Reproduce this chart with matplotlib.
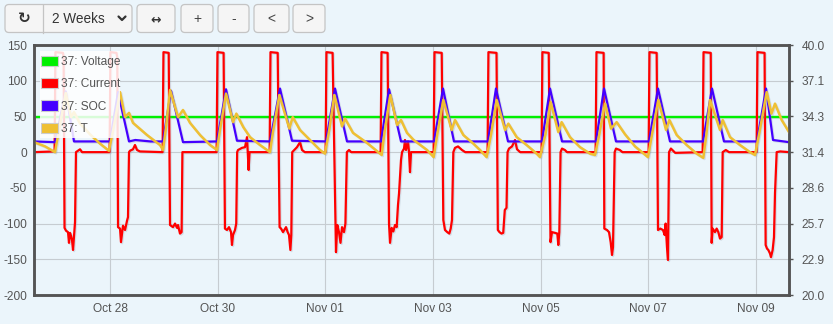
import numpy as np
import matplotlib
matplotlib.use('Agg')
import matplotlib.pyplot as plt
import matplotlib.dates as mdates
import matplotlib.patheffects as pe
from matplotlib.patches import Patch, FancyBboxPatch, Rectangle
from datetime import datetime

plt.rcParams['font.family'] = ['Liberation Sans', 'DejaVu Sans']

# time stamps are days relative to Oct 28 00:00
base = datetime(2023, 10, 28)
x_range = (-1.412, 12.614)

t_volt = [-1.412, -0.5, 0.5, 1.5, 2.5, 3.5, 4.5, 5.5, 6.5, 7.5, 8.5, 9.5, 10.5, 11.5, 12.614]
volt = [49.0, 49.0, 49.0, 49.0, 49.0, 49.0, 49.0, 49.0, 49.0, 49.0, 49.0, 49.0, 49.0, 49.0, 49.0]

t_current = [
    -1.412, -1.030, -1.014, -0.875, -0.862, -0.845, -0.817, -0.780, -0.762, -0.743, -0.725, -0.706, -0.687, -0.669, -0.650, -0.632, -0.557, -0.520,
    -0.008, 0.008, 0.120, 0.135, 0.149, 0.186, 0.204, 0.241, 0.279, 0.316, 0.334, 0.353, 0.372, 0.427, 0.464, 0.502, 0.557,
    0.977, 0.993, 1.090, 1.115, 1.170, 1.208, 1.245, 1.263, 1.300, 1.330, 1.345,
    1.980, 1.996, 2.110, 2.135, 2.173, 2.210, 2.248, 2.266, 2.285, 2.322, 2.345, 2.362, 2.378, 2.452, 2.508, 2.545, 2.558, 2.575, 2.592,
    2.965, 2.981, 3.115, 3.150, 3.177, 3.214, 3.270, 3.300, 3.325, 3.351, 3.368, 3.385, 3.474, 3.530, 3.567, 3.620,
    4.005, 4.021, 4.135, 4.198, 4.222, 4.254, 4.282, 4.310, 4.347, 4.373, 4.384, 4.400, 4.440, 4.480,
    5.027, 5.043, 5.157, 5.183, 5.202, 5.233, 5.263, 5.294, 5.325, 5.350, 5.369, 5.387, 5.406, 5.425, 5.462, 5.480, 5.499, 5.536, 5.555, 5.573, 5.592,
    6.012, 6.028, 6.162, 6.192, 6.223, 6.266, 6.303, 6.329, 6.353, 6.378, 6.409, 6.465, 6.539, 6.600,
    7.014, 7.030, 7.180, 7.205, 7.236, 7.273, 7.305, 7.334, 7.366, 7.385, 7.412, 7.468, 7.524, 7.561, 7.620,
    8.017, 8.033, 8.150, 8.183, 8.211, 8.267, 8.310, 8.328, 8.347, 8.370, 8.397, 8.450, 8.490,
    9.021, 9.037, 9.170, 9.183, 9.233, 9.270, 9.301, 9.326, 9.344, 9.375, 9.400, 9.470, 9.520,
    10.006, 10.022, 10.155, 10.180, 10.223, 10.273, 10.304, 10.322, 10.347, 10.366, 10.385, 10.420, 10.460, 10.500,
    11.010, 11.026, 11.160, 11.177, 11.195, 11.239, 11.270, 11.301, 11.332, 11.363, 11.382, 11.440, 11.500,
    12.012, 12.028, 12.160, 12.180, 12.205, 12.230, 12.261, 12.279, 12.310, 12.335, 12.354, 12.385, 12.450, 12.614,
]
current = [
    0, 1, 140, 139, 134, -106, -110, -112, -127, -113, -117, -123, -137, -118, -98, 0, 4, 0,
    0, 140, 139, 132, -105, -107, -126, -103, -109, -96, -91, 0, 2, 4, 10, 3, 1,
    0, 140, 139, -102, -105, -100, -106, -102, -114, -112, 0,
    0, 140, 139, -107, -109, -105, -112, -130, -116, -109, -100, 0, 3, 6, 7, 21, 0, -25, 0,
    0, 140, 139, -105, -107, -112, -105, -112, -116, -137, -116, 0, 7, 14, 3, 0,
    0, 140, 139, -140, -102, -112, -127, -105, -112, -100, -57, 0, 3, 0,
    0, 140, 139, -100, -127, -106, -111, -102, -105, -74, -58, -35, -11, 0, 5, 17, 3, 15, 0, -28, 0,
    0, 140, 139, -95, -109, -112, -114, -107, -95, 0, 6, 8, 3, 0,
    0, 140, 139, -109, -112, -114, -113, -81, -78, 0, 5, 8, 17, 4, 0,
    0, 140, 139, -126, -112, -113, -114, -130, -112, 0, 5, 3, 0,
    0, 140, 139, -107, -109, -112, -126, -144, -133, 0, 5, 3, 0,
    0, 140, 139, -109, -107, -109, -116, -100, -133, -151, 0, 5, 2, -1,
    0, 140, 139, -127, -107, -112, -107, -112, -121, -119, 0, 3, 0,
    0, 140, 139, -130, -135, -137, -142, -147, -137, -119, -57, 0, 1, 0,
]

t_soc = [
    -1.412, -1.022, -0.823, -0.669, -0.300,
    0.000, 0.149, 0.353, 0.470, 0.750,
    0.985, 1.133, 1.356,
    1.988, 2.155, 2.359,
    2.972, 3.158, 3.381,
    4.013, 4.180, 4.403,
    5.034, 5.183, 5.406,
    6.019, 6.186, 6.390,
    7.022, 7.170, 7.394,
    8.025, 8.174, 8.397,
    9.028, 9.177, 9.400,
    10.013, 10.180, 10.403,
    11.016, 11.183, 11.406,
    12.019, 12.187, 12.317, 12.614,
]
soc = [
    15, 14, 85, 15, 15,
    15, 84, 15, 17, 15,
    15, 86, 14,
    15, 88, 16,
    15, 89, 16,
    15, 89, 15,
    15, 88, 15,
    15, 89, 15,
    15, 89, 15,
    15, 89, 15,
    15, 89, 15,
    15, 89, 15,
    15, 89, 15,
    15, 89, 17, 14,
]

t_temp = [
    -1.412, -1.207, -1.022,
    -0.950, -0.823, -0.725, -0.669, -0.557, -0.372, -0.186, -0.020,
    0.056, 0.186, 0.279, 0.353, 0.427, 0.687, 0.929, 0.985,
    1.040, 1.115, 1.263, 1.356, 1.486, 1.672, 1.858, 1.988,
    2.040, 2.155, 2.285, 2.347, 2.476, 2.601, 2.787, 2.972,
    3.030, 3.146, 3.331, 3.394, 3.530, 3.715, 3.901, 3.994,
    4.070, 4.167, 4.310, 4.366, 4.514, 4.774, 5.016, 5.047,
    5.100, 5.208, 5.332, 5.406, 5.517, 5.641, 5.889, 6.013,
    6.080, 6.192, 6.347, 6.409, 6.564, 6.750, 6.873, 6.997,
    7.080, 7.183, 7.338, 7.400, 7.555, 7.740, 7.926, 7.988,
    8.090, 8.186, 8.328, 8.390, 8.545, 8.731, 8.917, 9.010,
    9.090, 9.196, 9.307, 9.412, 9.567, 9.753, 9.994,
    10.070, 10.186, 10.329, 10.391, 10.527, 10.713, 10.899, 11.022,
    11.080, 11.146, 11.332, 11.382, 11.518, 11.703, 11.889, 11.982,
    12.070, 12.199, 12.288, 12.354, 12.478, 12.614,
]
temp = [
    32.23, 31.89, 31.43,
    33.14, 36.17, 34.23, 34.63, 33.71, 32.86, 32.11, 31.54,
    33.14, 36.23, 34.23, 34.57, 33.77, 32.80, 32.00, 31.60,
    33.43, 36.40, 34.23, 34.80, 33.77, 32.80, 32.00, 31.60,
    33.14, 36.11, 33.83, 34.51, 33.43, 32.63, 32.00, 31.43,
    33.14, 36.00, 33.31, 34.23, 33.20, 32.40, 31.60, 31.31,
    33.14, 36.00, 33.49, 34.11, 32.97, 32.17, 31.31, 31.20,
    33.03, 36.00, 33.60, 34.00, 32.97, 32.40, 31.60, 31.03,
    32.86, 35.60, 33.20, 34.00, 32.80, 32.11, 31.60, 31.03,
    32.86, 35.60, 33.20, 33.71, 32.63, 32.00, 31.31, 31.03,
    32.86, 35.43, 33.03, 33.83, 32.63, 31.83, 31.31, 31.20,
    32.86, 35.31, 33.31, 33.83, 32.86, 31.89, 31.03,
    32.86, 35.60, 33.20, 34.00, 32.80, 32.00, 31.31, 30.97,
    32.86, 35.60, 33.20, 34.00, 32.63, 32.00, 31.43, 31.20,
    33.14, 36.23, 34.51, 35.31, 34.00, 33.03,
]

tick_days = ['2023-10-28', '2023-10-30', '2023-11-01', '2023-11-03', '2023-11-05', '2023-11-07', '2023-11-09']
left_ticks = [-200, -150, -100, -50, 0, 50, 100, 150]
right_ticks = [20.0, 22.857, 25.714, 28.571, 31.429, 34.286, 37.143, 40.0]

names = ['37: Voltage', '37: Current', '37: SOC', '37: T']
colors = ['#00f000', '#ff0000', '#4400ff', '#efc033']

bg = '#ebf5fb'
txt = '#545454'


def to_num(days):
    return mdates.date2num(base) + np.array(days)


fig = plt.figure(figsize=(8.33, 3.24), dpi=100, facecolor=bg)

# toolbar drawn in pixel space
tb = fig.add_axes([0, 0, 1, 1], zorder=-5)
tb.set_xlim(0, 833)
tb.set_ylim(324, 0)
tb.axis('off')

buttons = [(5, 127), (137, 38), (181, 32), (218, 31), (254, 35), (293, 32)]
for bx, bw in buttons:
    tb.add_patch(FancyBboxPatch((bx, 4.5), bw, 28, boxstyle='round,pad=0,rounding_size=4',
                                facecolor='#f5f5f5', edgecolor='#c4c4c4', linewidth=0.9))
tb.plot([43, 43], [4.5, 32.5], color='#c4c4c4', lw=0.9)
tb.text(24, 19, '\u21bb', ha='center', va='center', fontsize=11, fontweight='bold', color='#333333',
        family='DejaVu Sans')
tb.text(52, 19, '2 Weeks', ha='left', va='center', fontsize=9.8, color='#333333')
tb.plot([118.5, 122, 125.5], [16.5, 20, 16.5], color='#333333', lw=1.6, solid_capstyle='round')
tb.text(156, 19.5, '\u2194', ha='center', va='center', fontsize=9, fontweight='bold', color='#333333',
        family='DejaVu Sans')
for cx, s in [(197, '+'), (233.5, '-'), (271, '<'), (309, '>')]:
    tb.text(cx, 19, s, ha='center', va='center', fontsize=10, color='#444444')

ax = fig.add_axes([34 / 833, 29 / 324, 755 / 833, 250 / 324])
ax.set_facecolor(bg)
ax2 = ax.twinx()

shadow = [pe.SimpleLineShadow(offset=(0.8, -0.8), shadow_color='#8899aa', alpha=0.25), pe.Normal()]

ax.plot(to_num(t_volt), volt, color=colors[0], lw=1.7, path_effects=shadow)
ax.plot(to_num(t_current), current, color=colors[1], lw=1.6, path_effects=shadow)
ax.plot(to_num(t_soc), soc, color=colors[2], lw=1.6, path_effects=shadow)
ax2.plot(to_num(t_temp), temp, color=colors[3], lw=1.8, path_effects=shadow)

ax.set_xlim(to_num(x_range[0]), to_num(x_range[1]))
ax.set_ylim(-200, 150)
ax2.set_ylim(20, 40)

ax.set_yticks(left_ticks)
ax.set_yticklabels([str(v) for v in left_ticks])
ax2.set_yticks(right_ticks)
ax2.set_yticklabels(['%.1f' % v for v in right_ticks])
ticks = mdates.date2num([datetime.strptime(d, '%Y-%m-%d') for d in tick_days])
ax.set_xticks(ticks)
ax.xaxis.set_major_formatter(mdates.DateFormatter('%b %d'))

ax.grid(True, color='#c6ccd1', linewidth=0.8)
ax.set_axisbelow(True)

ax.tick_params(axis='y', length=0, pad=5, labelsize=8.6, labelcolor=txt)
ax.tick_params(axis='x', length=0, pad=6, labelsize=8.6, labelcolor=txt)
ax2.tick_params(axis='y', length=3, width=1, color=txt, pad=6, labelsize=8.6, labelcolor=txt)

for a in (ax, ax2):
    for sp in a.spines.values():
        sp.set_color('#545454')
        sp.set_linewidth(1.8)

# legend: translucent white panel behind a frameless legend
ax2.add_patch(Rectangle((6 / 755, (295 - 138) / 250), 80 / 755, 87 / 250, transform=ax2.transAxes,
                        facecolor='white', alpha=0.85, edgecolor='none', zorder=4))
handles = [Patch(facecolor=c, edgecolor='#cccccc', linewidth=0.8) for c in colors]
leg = ax2.legend(handles, names, loc='upper left', bbox_to_anchor=(7 / 755, 0.957), borderaxespad=0,
                 frameon=False, fontsize=8.6, labelcolor=txt, handlelength=1.42, handleheight=0.95,
                 handletextpad=0.25, labelspacing=0.84, borderpad=0)
leg.set_zorder(5)

fig.savefig('out.png', dpi=100, facecolor=bg)
